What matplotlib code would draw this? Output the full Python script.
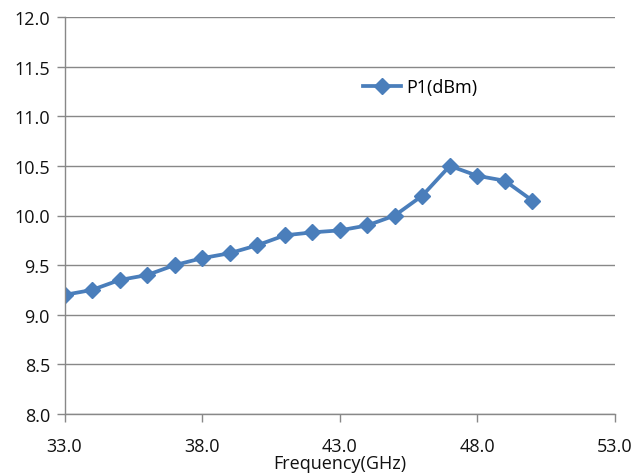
import matplotlib
matplotlib.use("Agg")
import matplotlib.pyplot as plt
from matplotlib.ticker import FormatStrFormatter

freq = [33, 34, 35, 36, 37, 38, 39, 40, 41, 42, 43, 44, 45, 46, 47, 48, 49, 50]
p1 = [9.2, 9.25, 9.35, 9.4, 9.5, 9.57, 9.62, 9.7, 9.8, 9.83, 9.85, 9.9, 10.0, 10.2, 10.5, 10.4, 10.35, 10.15]
xticks = [33, 38, 43, 48, 53]
yticks = [8.0, 8.5, 9.0, 9.5, 10.0, 10.5, 11.0, 11.5, 12.0]

plt.rcParams['font.family'] = ['Open Sans', 'DejaVu Sans']

fig = plt.figure(figsize=(6.34, 4.77), dpi=100)
ax = fig.add_axes([64.5/634, 1-415/477, (615-64.5)/634, (415-18)/477])

color = '#4A7EBB'
ax.plot(freq, p1, color=color, lw=2.7, marker='D', ms=8, mec=color, mfc=color,
        label='P1(dBm)')

ax.set_xlim(33, 53)
ax.set_ylim(8, 12)
ax.set_xticks(xticks)
ax.set_yticks(yticks)
ax.xaxis.set_major_formatter(FormatStrFormatter('%.1f'))
ax.yaxis.set_major_formatter(FormatStrFormatter('%.1f'))
ax.grid(axis='y', color='#888888', lw=1.0)
ax.set_axisbelow(True)
for s in ['top', 'right']:
    ax.spines[s].set_visible(False)
for s in ['left', 'bottom']:
    ax.spines[s].set_color('#888888')
    ax.spines[s].set_linewidth(1.0)
ax.tick_params(axis='both', colors='#888888', labelcolor='#111111', labelsize=13,
               length=5.5, width=1.0, direction='out')
ax.tick_params(axis='x', pad=11)
ax.tick_params(axis='y', pad=5)
ax.set_xlabel('Frequency(GHz)', fontsize=13, color='#111111', labelpad=-1)

leg = ax.legend(loc='center left', bbox_to_anchor=((354-64.5)/550.5, (415-88)/397),
                frameon=False, fontsize=13, handlelength=2.1, handletextpad=0.3,
                borderpad=0)

fig.savefig('out.png', dpi=100)
